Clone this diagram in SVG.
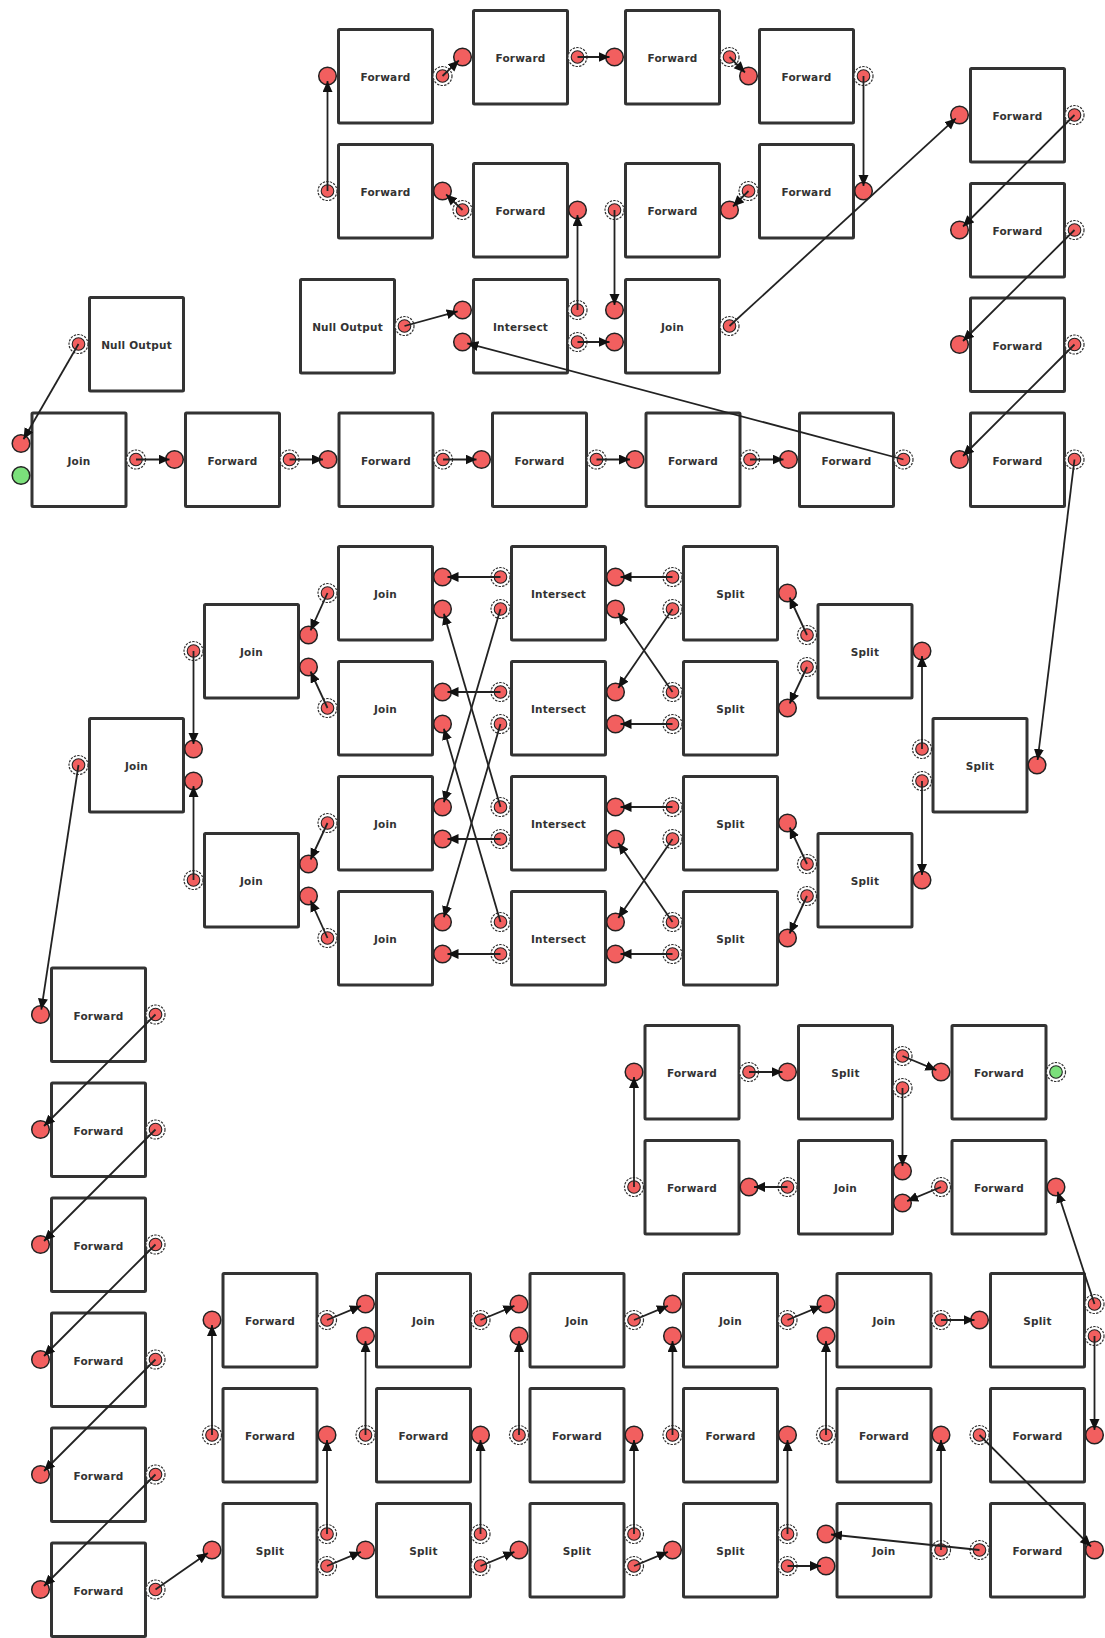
<svg xmlns="http://www.w3.org/2000/svg" xmlns:xlink="http://www.w3.org/1999/xlink" width="1105" height="1638" viewBox="0 0 1105 1638">
  <style>
    .box { fill: #ffffff; stroke: #333333; stroke-width: 3; }
    .lbl { font-family: "DejaVu Sans", "Liberation Sans", sans-serif; font-weight: bold; font-size: 10.5px; letter-spacing: 0.2px; fill: #333333; text-anchor: middle; dominant-baseline: central; }
    .pin { fill: #f25f5f; stroke: #222222; stroke-width: 1.5; }
    .pin-free { fill: #7be07b; stroke: #222222; stroke-width: 1.5; }
    .ring { fill: #ffffff; stroke: #333333; stroke-width: 1.2; stroke-dasharray: 2.4 1.2; }
    .pout { fill: #f25f5f; stroke: #222222; stroke-width: 1.1; }
    .pout-free { fill: #7be07b; stroke: #222222; stroke-width: 1.1; }
    .edge line { stroke: #222222; stroke-width: 1.8; marker-end: url(#ah); }
  </style>
  <defs>
    <marker id="ah" markerUnits="userSpaceOnUse" markerWidth="13" markerHeight="11" refX="11" refY="5" orient="auto">
      <path d="M0,0 L11,5 L0,10 z" fill="#111111"/>
    </marker>
    <!-- input port: solid disc -->
    <circle id="in" r="8.8" class="pin"/>
    <circle id="in-free" r="8.8" class="pin-free"/>
    <!-- output port: disc inside a dashed ring -->
    <g id="out"><circle r="9.5" class="ring"/><circle r="6.3" class="pout"/></g>
    <g id="out-free"><circle r="9.5" class="ring"/><circle r="6.3" class="pout-free"/></g>
    <rect id="frame" x="1.5" y="1.5" width="94" height="93.5" rx="1" class="box"/>
  </defs>

  <!-- ===== upper loop ===== -->
  <g id="fwd-a1" transform="translate(337,28)"><use href="#frame"/><text class="lbl" x="48.5" y="49">Forward</text><use href="#in" x="-9.5" y="48"/><use href="#out" x="105.5" y="48"/></g>
  <g id="fwd-a2" transform="translate(472,9)"><use href="#frame"/><text class="lbl" x="48.5" y="49">Forward</text><use href="#in" x="-9.5" y="48"/><use href="#out" x="105.5" y="48"/></g>
  <g id="fwd-a3" transform="translate(624,9)"><use href="#frame"/><text class="lbl" x="48.5" y="49">Forward</text><use href="#in" x="-9.5" y="48"/><use href="#out" x="105.5" y="48"/></g>
  <g id="fwd-a4" transform="translate(758,28)"><use href="#frame"/><text class="lbl" x="48.5" y="49">Forward</text><use href="#in" x="-9.5" y="48"/><use href="#out" x="105.5" y="48"/></g>
  <g id="fwd-b4" transform="translate(758,143)"><use href="#frame"/><text class="lbl" x="48.5" y="49">Forward</text><use href="#in" x="105.5" y="48"/><use href="#out" x="-9.5" y="48"/></g>
  <g id="fwd-b3" transform="translate(624,162)"><use href="#frame"/><text class="lbl" x="48.5" y="49">Forward</text><use href="#in" x="105.5" y="48"/><use href="#out" x="-9.5" y="48"/></g>
  <g id="fwd-b2" transform="translate(472,162)"><use href="#frame"/><text class="lbl" x="48.5" y="49">Forward</text><use href="#in" x="105.5" y="48"/><use href="#out" x="-9.5" y="48"/></g>
  <g id="fwd-b1" transform="translate(337,143)"><use href="#frame"/><text class="lbl" x="48.5" y="49">Forward</text><use href="#in" x="105.5" y="48"/><use href="#out" x="-9.5" y="48"/></g>
  <g id="null-1" transform="translate(299,278)"><use href="#frame"/><text class="lbl" x="48.5" y="49">Null  Output</text><use href="#out" x="105.5" y="48"/></g>
  <g id="int-0" transform="translate(472,278)"><use href="#frame"/><text class="lbl" x="48.5" y="49">Intersect</text><use href="#in" x="-9.5" y="32"/><use href="#in" x="-9.5" y="64"/><use href="#out" x="105.5" y="32"/><use href="#out" x="105.5" y="64"/></g>
  <g id="join-0" transform="translate(624,278)"><use href="#frame"/><text class="lbl" x="48.5" y="49">Join</text><use href="#in" x="-9.5" y="32"/><use href="#in" x="-9.5" y="64"/><use href="#out" x="105.5" y="48"/></g>

  <!-- ===== source row ===== -->
  <g id="null-2" transform="translate(88,296)"><use href="#frame"/><text class="lbl" x="48.5" y="49">Null  Output</text><use href="#out" x="-9.5" y="48"/></g>
  <g id="join-d1" transform="translate(30.5,411.5)"><use href="#frame"/><text class="lbl" x="48.5" y="49">Join</text><use href="#in" x="-9.5" y="32"/><use href="#in-free" x="-9.5" y="64"/><use href="#out" x="105.5" y="48"/></g>
  <g id="fwd-d2" transform="translate(184,411.5)"><use href="#frame"/><text class="lbl" x="48.5" y="49">Forward</text><use href="#in" x="-9.5" y="48"/><use href="#out" x="105.5" y="48"/></g>
  <g id="fwd-d3" transform="translate(337.5,411.5)"><use href="#frame"/><text class="lbl" x="48.5" y="49">Forward</text><use href="#in" x="-9.5" y="48"/><use href="#out" x="105.5" y="48"/></g>
  <g id="fwd-d4" transform="translate(491,411.5)"><use href="#frame"/><text class="lbl" x="48.5" y="49">Forward</text><use href="#in" x="-9.5" y="48"/><use href="#out" x="105.5" y="48"/></g>
  <g id="fwd-d5" transform="translate(644.5,411.5)"><use href="#frame"/><text class="lbl" x="48.5" y="49">Forward</text><use href="#in" x="-9.5" y="48"/><use href="#out" x="105.5" y="48"/></g>
  <g id="fwd-d6" transform="translate(798,411.5)"><use href="#frame"/><text class="lbl" x="48.5" y="49">Forward</text><use href="#in" x="-9.5" y="48"/><use href="#out" x="105.5" y="48"/></g>

  <!-- ===== right column ===== -->
  <g id="fwd-r1" transform="translate(969,67)"><use href="#frame"/><text class="lbl" x="48.5" y="49">Forward</text><use href="#in" x="-9.5" y="48"/><use href="#out" x="105.5" y="48"/></g>
  <g id="fwd-r2" transform="translate(969,182)"><use href="#frame"/><text class="lbl" x="48.5" y="49">Forward</text><use href="#in" x="-9.5" y="48"/><use href="#out" x="105.5" y="48"/></g>
  <g id="fwd-r3" transform="translate(969,296.5)"><use href="#frame"/><text class="lbl" x="48.5" y="49">Forward</text><use href="#in" x="-9.5" y="48"/><use href="#out" x="105.5" y="48"/></g>
  <g id="fwd-r4" transform="translate(969,411.5)"><use href="#frame"/><text class="lbl" x="48.5" y="49">Forward</text><use href="#in" x="-9.5" y="48"/><use href="#out" x="105.5" y="48"/></g>

  <!-- ===== split / intersect / join lattice ===== -->
  <g id="split-r" transform="translate(931.5,717)"><use href="#frame"/><text class="lbl" x="48.5" y="49">Split</text><use href="#in" x="105.5" y="48"/><use href="#out" x="-9.5" y="32"/><use href="#out" x="-9.5" y="64"/></g>
  <g id="split-m1" transform="translate(816.5,603)"><use href="#frame"/><text class="lbl" x="48.5" y="49">Split</text><use href="#in" x="105.5" y="48"/><use href="#out" x="-9.5" y="32"/><use href="#out" x="-9.5" y="64"/></g>
  <g id="split-m2" transform="translate(816.5,832)"><use href="#frame"/><text class="lbl" x="48.5" y="49">Split</text><use href="#in" x="105.5" y="48"/><use href="#out" x="-9.5" y="32"/><use href="#out" x="-9.5" y="64"/></g>
  <g id="split-a1" transform="translate(682,545)"><use href="#frame"/><text class="lbl" x="48.5" y="49">Split</text><use href="#in" x="105.5" y="48"/><use href="#out" x="-9.5" y="32"/><use href="#out" x="-9.5" y="64"/></g>
  <g id="split-a2" transform="translate(682,660)"><use href="#frame"/><text class="lbl" x="48.5" y="49">Split</text><use href="#in" x="105.5" y="48"/><use href="#out" x="-9.5" y="32"/><use href="#out" x="-9.5" y="64"/></g>
  <g id="split-b1" transform="translate(682,775)"><use href="#frame"/><text class="lbl" x="48.5" y="49">Split</text><use href="#in" x="105.5" y="48"/><use href="#out" x="-9.5" y="32"/><use href="#out" x="-9.5" y="64"/></g>
  <g id="split-b2" transform="translate(682,890)"><use href="#frame"/><text class="lbl" x="48.5" y="49">Split</text><use href="#in" x="105.5" y="48"/><use href="#out" x="-9.5" y="32"/><use href="#out" x="-9.5" y="64"/></g>
  <g id="int-1" transform="translate(510,545)"><use href="#frame"/><text class="lbl" x="48.5" y="49">Intersect</text><use href="#in" x="105.5" y="32"/><use href="#in" x="105.5" y="64"/><use href="#out" x="-9.5" y="32"/><use href="#out" x="-9.5" y="64"/></g>
  <g id="int-2" transform="translate(510,660)"><use href="#frame"/><text class="lbl" x="48.5" y="49">Intersect</text><use href="#in" x="105.5" y="32"/><use href="#in" x="105.5" y="64"/><use href="#out" x="-9.5" y="32"/><use href="#out" x="-9.5" y="64"/></g>
  <g id="int-3" transform="translate(510,775)"><use href="#frame"/><text class="lbl" x="48.5" y="49">Intersect</text><use href="#in" x="105.5" y="32"/><use href="#in" x="105.5" y="64"/><use href="#out" x="-9.5" y="32"/><use href="#out" x="-9.5" y="64"/></g>
  <g id="int-4" transform="translate(510,890)"><use href="#frame"/><text class="lbl" x="48.5" y="49">Intersect</text><use href="#in" x="105.5" y="32"/><use href="#in" x="105.5" y="64"/><use href="#out" x="-9.5" y="32"/><use href="#out" x="-9.5" y="64"/></g>
  <g id="join-1" transform="translate(337,545)"><use href="#frame"/><text class="lbl" x="48.5" y="49">Join</text><use href="#in" x="105.5" y="32"/><use href="#in" x="105.5" y="64"/><use href="#out" x="-9.5" y="48"/></g>
  <g id="join-2" transform="translate(337,660)"><use href="#frame"/><text class="lbl" x="48.5" y="49">Join</text><use href="#in" x="105.5" y="32"/><use href="#in" x="105.5" y="64"/><use href="#out" x="-9.5" y="48"/></g>
  <g id="join-3" transform="translate(337,775)"><use href="#frame"/><text class="lbl" x="48.5" y="49">Join</text><use href="#in" x="105.5" y="32"/><use href="#in" x="105.5" y="64"/><use href="#out" x="-9.5" y="48"/></g>
  <g id="join-4" transform="translate(337,890)"><use href="#frame"/><text class="lbl" x="48.5" y="49">Join</text><use href="#in" x="105.5" y="32"/><use href="#in" x="105.5" y="64"/><use href="#out" x="-9.5" y="48"/></g>
  <g id="join-l1" transform="translate(203,603)"><use href="#frame"/><text class="lbl" x="48.5" y="49">Join</text><use href="#in" x="105.5" y="32"/><use href="#in" x="105.5" y="64"/><use href="#out" x="-9.5" y="48"/></g>
  <g id="join-l2" transform="translate(203,832)"><use href="#frame"/><text class="lbl" x="48.5" y="49">Join</text><use href="#in" x="105.5" y="32"/><use href="#in" x="105.5" y="64"/><use href="#out" x="-9.5" y="48"/></g>
  <g id="join-ll" transform="translate(88,717)"><use href="#frame"/><text class="lbl" x="48.5" y="49">Join</text><use href="#in" x="105.5" y="32"/><use href="#in" x="105.5" y="64"/><use href="#out" x="-9.5" y="48"/></g>

  <!-- ===== left column ===== -->
  <g id="fwd-c1" transform="translate(50,966.5)"><use href="#frame"/><text class="lbl" x="48.5" y="49">Forward</text><use href="#in" x="-9.5" y="48"/><use href="#out" x="105.5" y="48"/></g>
  <g id="fwd-c2" transform="translate(50,1081.5)"><use href="#frame"/><text class="lbl" x="48.5" y="49">Forward</text><use href="#in" x="-9.5" y="48"/><use href="#out" x="105.5" y="48"/></g>
  <g id="fwd-c3" transform="translate(50,1196.5)"><use href="#frame"/><text class="lbl" x="48.5" y="49">Forward</text><use href="#in" x="-9.5" y="48"/><use href="#out" x="105.5" y="48"/></g>
  <g id="fwd-c4" transform="translate(50,1311.5)"><use href="#frame"/><text class="lbl" x="48.5" y="49">Forward</text><use href="#in" x="-9.5" y="48"/><use href="#out" x="105.5" y="48"/></g>
  <g id="fwd-c5" transform="translate(50,1426.5)"><use href="#frame"/><text class="lbl" x="48.5" y="49">Forward</text><use href="#in" x="-9.5" y="48"/><use href="#out" x="105.5" y="48"/></g>
  <g id="fwd-c6" transform="translate(50,1541.5)"><use href="#frame"/><text class="lbl" x="48.5" y="49">Forward</text><use href="#in" x="-9.5" y="48"/><use href="#out" x="105.5" y="48"/></g>

  <!-- ===== lower-right loop ===== -->
  <g id="fwd-h1" transform="translate(643.5,1024)"><use href="#frame"/><text class="lbl" x="48.5" y="49">Forward</text><use href="#in" x="-9.5" y="48"/><use href="#out" x="105.5" y="48"/></g>
  <g id="split-h2" transform="translate(797,1024)"><use href="#frame"/><text class="lbl" x="48.5" y="49">Split</text><use href="#in" x="-9.5" y="48"/><use href="#out" x="105.5" y="32"/><use href="#out" x="105.5" y="64"/></g>
  <g id="fwd-h3" transform="translate(950.5,1024)"><use href="#frame"/><text class="lbl" x="48.5" y="49">Forward</text><use href="#in" x="-9.5" y="48"/><use href="#out-free" x="105.5" y="48"/></g>
  <g id="fwd-h4" transform="translate(643.5,1139)"><use href="#frame"/><text class="lbl" x="48.5" y="49">Forward</text><use href="#in" x="105.5" y="48"/><use href="#out" x="-9.5" y="48"/></g>
  <g id="join-h5" transform="translate(797,1139)"><use href="#frame"/><text class="lbl" x="48.5" y="49">Join</text><use href="#in" x="105.5" y="32"/><use href="#in" x="105.5" y="64"/><use href="#out" x="-9.5" y="48"/></g>
  <g id="fwd-h6" transform="translate(950.5,1139)"><use href="#frame"/><text class="lbl" x="48.5" y="49">Forward</text><use href="#in" x="105.5" y="48"/><use href="#out" x="-9.5" y="48"/></g>

  <!-- ===== bottom grid ===== -->
  <g id="fwd-g11" transform="translate(221.5,1272)"><use href="#frame"/><text class="lbl" x="48.5" y="49">Forward</text><use href="#in" x="-9.5" y="48"/><use href="#out" x="105.5" y="48"/></g>
  <g id="join-g12" transform="translate(375,1272)"><use href="#frame"/><text class="lbl" x="48.5" y="49">Join</text><use href="#in" x="-9.5" y="32"/><use href="#in" x="-9.5" y="64"/><use href="#out" x="105.5" y="48"/></g>
  <g id="join-g13" transform="translate(528.5,1272)"><use href="#frame"/><text class="lbl" x="48.5" y="49">Join</text><use href="#in" x="-9.5" y="32"/><use href="#in" x="-9.5" y="64"/><use href="#out" x="105.5" y="48"/></g>
  <g id="join-g14" transform="translate(682,1272)"><use href="#frame"/><text class="lbl" x="48.5" y="49">Join</text><use href="#in" x="-9.5" y="32"/><use href="#in" x="-9.5" y="64"/><use href="#out" x="105.5" y="48"/></g>
  <g id="join-g15" transform="translate(835.5,1272)"><use href="#frame"/><text class="lbl" x="48.5" y="49">Join</text><use href="#in" x="-9.5" y="32"/><use href="#in" x="-9.5" y="64"/><use href="#out" x="105.5" y="48"/></g>
  <g id="split-g16" transform="translate(989,1272)"><use href="#frame"/><text class="lbl" x="48.5" y="49">Split</text><use href="#in" x="-9.5" y="48"/><use href="#out" x="105.5" y="32"/><use href="#out" x="105.5" y="64"/></g>
  <g id="fwd-g21" transform="translate(221.5,1387)"><use href="#frame"/><text class="lbl" x="48.5" y="49">Forward</text><use href="#in" x="105.5" y="48"/><use href="#out" x="-9.5" y="48"/></g>
  <g id="fwd-g22" transform="translate(375,1387)"><use href="#frame"/><text class="lbl" x="48.5" y="49">Forward</text><use href="#in" x="105.5" y="48"/><use href="#out" x="-9.5" y="48"/></g>
  <g id="fwd-g23" transform="translate(528.5,1387)"><use href="#frame"/><text class="lbl" x="48.5" y="49">Forward</text><use href="#in" x="105.5" y="48"/><use href="#out" x="-9.5" y="48"/></g>
  <g id="fwd-g24" transform="translate(682,1387)"><use href="#frame"/><text class="lbl" x="48.5" y="49">Forward</text><use href="#in" x="105.5" y="48"/><use href="#out" x="-9.5" y="48"/></g>
  <g id="fwd-g25" transform="translate(835.5,1387)"><use href="#frame"/><text class="lbl" x="48.5" y="49">Forward</text><use href="#in" x="105.5" y="48"/><use href="#out" x="-9.5" y="48"/></g>
  <g id="fwd-g26" transform="translate(989,1387)"><use href="#frame"/><text class="lbl" x="48.5" y="49">Forward</text><use href="#in" x="105.5" y="48"/><use href="#out" x="-9.5" y="48"/></g>
  <g id="split-g31" transform="translate(221.5,1502)"><use href="#frame"/><text class="lbl" x="48.5" y="49">Split</text><use href="#in" x="-9.5" y="48"/><use href="#out" x="105.5" y="32"/><use href="#out" x="105.5" y="64"/></g>
  <g id="split-g32" transform="translate(375,1502)"><use href="#frame"/><text class="lbl" x="48.5" y="49">Split</text><use href="#in" x="-9.5" y="48"/><use href="#out" x="105.5" y="32"/><use href="#out" x="105.5" y="64"/></g>
  <g id="split-g33" transform="translate(528.5,1502)"><use href="#frame"/><text class="lbl" x="48.5" y="49">Split</text><use href="#in" x="-9.5" y="48"/><use href="#out" x="105.5" y="32"/><use href="#out" x="105.5" y="64"/></g>
  <g id="split-g34" transform="translate(682,1502)"><use href="#frame"/><text class="lbl" x="48.5" y="49">Split</text><use href="#in" x="-9.5" y="48"/><use href="#out" x="105.5" y="32"/><use href="#out" x="105.5" y="64"/></g>
  <g id="join-g35" transform="translate(835.5,1502)"><use href="#frame"/><text class="lbl" x="48.5" y="49">Join</text><use href="#in" x="-9.5" y="32"/><use href="#in" x="-9.5" y="64"/><use href="#out" x="105.5" y="48"/></g>
  <g id="fwd-g36" transform="translate(989,1502)"><use href="#frame"/><text class="lbl" x="48.5" y="49">Forward</text><use href="#in" x="105.5" y="48"/><use href="#out" x="-9.5" y="48"/></g>

  <!-- ===== connectors (output port centre to just short of input port centre) ===== -->
  <g id="edges" class="edge">
    <line x1="442.5" y1="76" x2="458.9" y2="60.4"/>
    <line x1="577.5" y1="57" x2="609.5" y2="57"/>
    <line x1="729.5" y1="57" x2="745" y2="72.5"/>
    <line x1="863.5" y1="76" x2="863.5" y2="186"/>
    <line x1="748.5" y1="191" x2="733" y2="206.5"/>
    <line x1="614.5" y1="210" x2="614.5" y2="305"/>
    <line x1="577.5" y1="310" x2="577.5" y2="215"/>
    <line x1="462.5" y1="210" x2="446.1" y2="194.4"/>
    <line x1="327.5" y1="191" x2="327.5" y2="81"/>
    <line x1="404.5" y1="326" x2="457.7" y2="311.3"/>
    <line x1="577.5" y1="342" x2="609.5" y2="342"/>
    <line x1="729.5" y1="326" x2="955.8" y2="118.4"/>
    <line x1="1074.5" y1="115" x2="963" y2="226.5"/>
    <line x1="1074.5" y1="230" x2="963" y2="341"/>
    <line x1="1074.5" y1="344.5" x2="963" y2="456"/>
    <line x1="1074.5" y1="459.5" x2="1037.6" y2="760"/>

    <line x1="78.5" y1="344" x2="23.5" y2="439.2"/>
    <line x1="136" y1="459.5" x2="169.5" y2="459.5"/>
    <line x1="289.5" y1="459.5" x2="323" y2="459.5"/>
    <line x1="443" y1="459.5" x2="476.5" y2="459.5"/>
    <line x1="596.5" y1="459.5" x2="630" y2="459.5"/>
    <line x1="750" y1="459.5" x2="783.5" y2="459.5"/>
    <line x1="903.5" y1="459.5" x2="467.3" y2="343.3"/>

    <line x1="922" y1="749" x2="922" y2="656"/>
    <line x1="922" y1="781" x2="922" y2="875"/>
    <line x1="807" y1="635" x2="789.6" y2="597.5"/>
    <line x1="807" y1="667" x2="789.7" y2="703.5"/>
    <line x1="807" y1="864" x2="789.7" y2="827.5"/>
    <line x1="807" y1="896" x2="789.6" y2="933.5"/>
    <line x1="672.5" y1="577" x2="620.5" y2="577"/>
    <line x1="672.5" y1="609" x2="618.3" y2="687.9"/>
    <line x1="672.5" y1="692" x2="618.3" y2="613.1"/>
    <line x1="672.5" y1="724" x2="620.5" y2="724"/>
    <line x1="672.5" y1="807" x2="620.5" y2="807"/>
    <line x1="672.5" y1="839" x2="618.3" y2="917.9"/>
    <line x1="672.5" y1="922" x2="618.3" y2="843.1"/>
    <line x1="672.5" y1="954" x2="620.5" y2="954"/>
    <line x1="500.5" y1="577" x2="447.5" y2="577"/>
    <line x1="500.5" y1="609" x2="443.9" y2="802.2"/>
    <line x1="500.5" y1="692" x2="447.5" y2="692"/>
    <line x1="500.5" y1="724" x2="443.9" y2="917.2"/>
    <line x1="500.5" y1="807" x2="443.9" y2="613.8"/>
    <line x1="500.5" y1="839" x2="447.5" y2="839"/>
    <line x1="500.5" y1="922" x2="443.9" y2="728.8"/>
    <line x1="500.5" y1="954" x2="447.5" y2="954"/>
    <line x1="327.5" y1="593" x2="310.6" y2="630.4"/>
    <line x1="327.5" y1="708" x2="310.6" y2="671.5"/>
    <line x1="327.5" y1="823" x2="310.6" y2="859.5"/>
    <line x1="327.5" y1="938" x2="310.6" y2="900.6"/>
    <line x1="193.5" y1="651" x2="193.5" y2="744"/>
    <line x1="193.5" y1="880" x2="193.5" y2="786"/>
    <line x1="78.5" y1="765" x2="41.3" y2="1009.6"/>

    <line x1="155.5" y1="1014.5" x2="44" y2="1126"/>
    <line x1="155.5" y1="1129.5" x2="44" y2="1241"/>
    <line x1="155.5" y1="1244.5" x2="44" y2="1356"/>
    <line x1="155.5" y1="1359.5" x2="44" y2="1471"/>
    <line x1="155.5" y1="1474.5" x2="44" y2="1586"/>
    <line x1="155.5" y1="1589.5" x2="207.9" y2="1552.9"/>

    <line x1="327" y1="1534" x2="327" y2="1440"/>
    <line x1="327" y1="1566" x2="360.9" y2="1551.9"/>
    <line x1="212" y1="1435" x2="212" y2="1325"/>
    <line x1="327" y1="1320" x2="360.9" y2="1305.9"/>
    <line x1="480.5" y1="1534" x2="480.5" y2="1440"/>
    <line x1="480.5" y1="1566" x2="514.4" y2="1551.9"/>
    <line x1="365.5" y1="1435" x2="365.5" y2="1341"/>
    <line x1="480.5" y1="1320" x2="514.4" y2="1305.9"/>
    <line x1="634" y1="1534" x2="634" y2="1440"/>
    <line x1="634" y1="1566" x2="667.9" y2="1551.9"/>
    <line x1="519" y1="1435" x2="519" y2="1341"/>
    <line x1="634" y1="1320" x2="667.9" y2="1305.9"/>
    <line x1="787.5" y1="1534" x2="787.5" y2="1440"/>
    <line x1="787.5" y1="1566" x2="821" y2="1566"/>
    <line x1="672.5" y1="1435" x2="672.5" y2="1341"/>
    <line x1="787.5" y1="1320" x2="821.4" y2="1305.9"/>
    <line x1="941" y1="1550" x2="941" y2="1440"/>
    <line x1="826" y1="1435" x2="826" y2="1341"/>
    <line x1="941" y1="1320" x2="974.5" y2="1320"/>
    <line x1="1094.5" y1="1304" x2="1057.6" y2="1191.8"/>
    <line x1="1094.5" y1="1336" x2="1094.5" y2="1430"/>
    <line x1="979.5" y1="1435" x2="1091" y2="1546.5"/>
    <line x1="979.5" y1="1550" x2="831" y2="1534.5"/>

    <line x1="749" y1="1072" x2="782.5" y2="1072"/>
    <line x1="902.5" y1="1056" x2="936.4" y2="1070.1"/>
    <line x1="902.5" y1="1088" x2="902.5" y2="1166"/>
    <line x1="941" y1="1187" x2="907.1" y2="1201.1"/>
    <line x1="787.5" y1="1187" x2="754" y2="1187"/>
    <line x1="634" y1="1187" x2="634" y2="1077"/>
  </g>
</svg>
